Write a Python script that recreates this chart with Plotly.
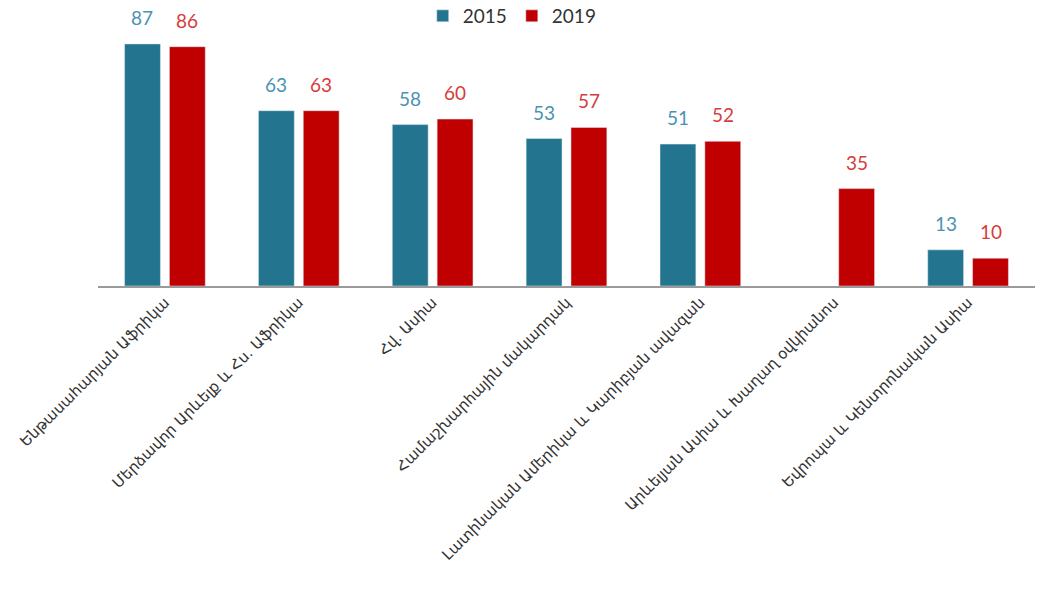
import plotly.graph_objects as go

categories = [
    "Ենթասահարյան Աֆրիկա",
    "Մերձավոր Արևելք և Հս. Աֆրիկա",
    "Հվ. Ասիա",
    "Համաշխարհային մակարդակ",
    "Լատինական Ամերիկա և Կարիբյան ավազան",
    "Արևելյան Ասիա և Խաղաղ օվկիանոս",
    "Եվրոպա և Կենտրոնական Ասիա",
]
years = ["2015", "2019"]
values_2015 = [87, 63, 58, 53, 51, None, 13]
values_2019 = [86, 63, 60, 57, 52, 35, 10]

teal = "#23758f"
red = "#c00000"
teal_text = "#4a92b4"
red_text = "#d63c3c"

fig = go.Figure()
fig.add_trace(go.Bar(x=categories, y=values_2015, name=years[0], marker_color=teal))
fig.add_trace(go.Bar(x=categories, y=values_2019, name=years[1], marker_color=red))

# value labels above bars
for vals, shift, col in [(values_2015, -22.5, teal_text), (values_2019, 22.5, red_text)]:
    for c, v in zip(categories, vals):
        if v is None:
            continue
        fig.add_annotation(x=c, y=v, text=str(v), showarrow=False,
                           xshift=shift, yshift=13, yanchor="bottom",
                           font=dict(size=19, color=col, family="Lato, DejaVu Sans"))

fig.update_layout(
    width=1039, height=590,
    margin=dict(l=98, r=4, t=30, b=304, autoexpand=False),
    paper_bgcolor="white", plot_bgcolor="white",
    barmode="group", bargap=0.33, bargroupgap=0.2,
    font=dict(family="DejaVu Sans", color="#333333"),
    legend=dict(orientation="h", xref="container", x=0.493, xanchor="center",
                yref="container", y=1 - 16 / 590, yanchor="middle",
                font=dict(size=19, family="Lato, DejaVu Sans", color="#333333")),
    showlegend=True,
)
fig.update_xaxes(tickangle=-45, showline=True, linecolor="#9a9a9a", linewidth=1.5,
                 tickfont=dict(size=15, family="DejaVu Sans", color="#333333"),
                 ticks="", showgrid=False, automargin=False)
fig.update_yaxes(range=[0, 92], visible=False, showgrid=False)

fig.write_html("out.html", config={"displayModeBar": False},
               post_script="document.body.style.margin='0';document.body.style.padding='0';")
